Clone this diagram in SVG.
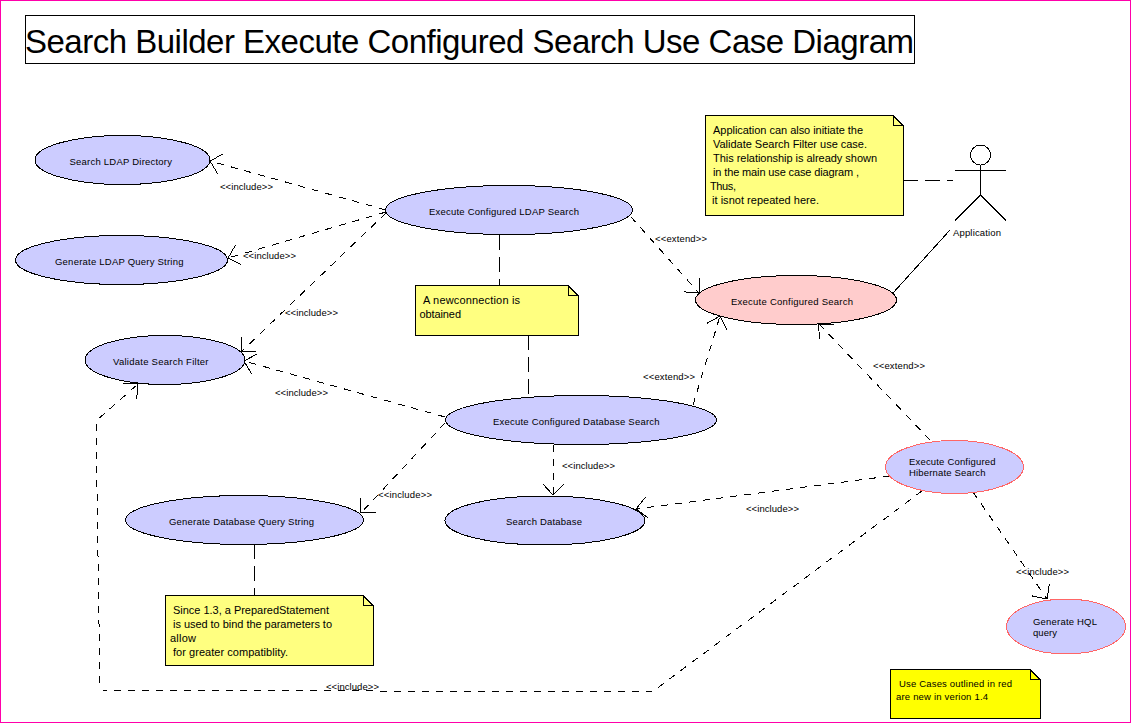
<svg xmlns="http://www.w3.org/2000/svg" width="1131" height="723" viewBox="0 0 1131 723">
<style>
text{font-family:"Liberation Sans",Arial,sans-serif;fill:#000}
path,ellipse,circle,rect{shape-rendering:crispEdges}
.s{font-size:9.5px}
.n{font-size:11px}
.t{font-size:33px}
.uc{fill:#ccccff;stroke:#000;stroke-width:1}
.uc2{fill:#ccccff;stroke:#ff6666;stroke-width:1}
.pink{fill:#ffcccc;stroke:#000;stroke-width:1}
.note{fill:#ffff80;stroke:#000;stroke-width:1}
.yel{fill:#ffff00;stroke:#000;stroke-width:1}
.dep{fill:none;stroke:#000;stroke-width:1;stroke-dasharray:7 7;marker-end:url(#open)}
.lnk{fill:none;stroke:#000;stroke-width:1;stroke-dasharray:15 7}
.sol{fill:none;stroke:#000;stroke-width:1}
</style>
<defs>
<marker id="open" markerUnits="userSpaceOnUse" markerWidth="32" markerHeight="32" refX="16" refY="16" orient="auto" overflow="visible">
<path d="M5,5.500L16,16L5,26.500" fill="none" stroke="#000" stroke-width="1"/>
</marker>
</defs>
<rect x="0" y="0" width="1131" height="723" fill="#fff"/>
<rect x="0.500" y="0.500" width="1130" height="722" fill="none" stroke="#ff00aa" stroke-width="1"/>
<g id="title">
<rect x="25.500" y="15.500" width="889" height="48" fill="#fff" stroke="#000"/>
<text class="t" x="25" y="53" textLength="889">Search Builder Execute Configured Search Use Case Diagram</text>
</g>
<g id="connectors">
<path class="dep" d="M386,210L210,161"/>
<path class="dep" d="M386,212L228,258"/>
<path class="dep" d="M386,213L241,352"/>
<path class="dep" d="M445,417L244,361"/>
<path class="dep" d="M445,423L361,513"/>
<path class="dep" d="M554,445L553,495"/>
<path class="dep" d="M631,217L699,293"/>
<path class="dep" d="M693,405L720,316"/>
<path class="dep" d="M930,440L819,324"/>
<path class="dep" d="M890,476L636,509"/>
<path class="dep" d="M973,492L1047,599"/>
<path class="dep" d="M922,491L652,692L100,690L96,421L138,384"/>
<path class="lnk" d="M499,235V285"/>
<path class="lnk" d="M528,335V396"/>
<path class="lnk" d="M254.500,544V595"/>
<path class="lnk" d="M903,180.500H953"/>
<path class="sol" d="M893,293L950,230"/>
<text class="s" x="220" y="190" textLength="53">&lt;&lt;include&gt;&gt;</text>
<text class="s" x="243" y="259" textLength="53">&lt;&lt;include&gt;&gt;</text>
<text class="s" x="285" y="316" textLength="53">&lt;&lt;include&gt;&gt;</text>
<text class="s" x="275" y="396" textLength="53">&lt;&lt;include&gt;&gt;</text>
<text class="s" x="562" y="469" textLength="53">&lt;&lt;include&gt;&gt;</text>
<text class="s" x="378" y="498" textLength="54">&lt;&lt;include&gt;&gt;</text>
<text class="s" x="746" y="512" textLength="53">&lt;&lt;include&gt;&gt;</text>
<text class="s" x="1016" y="575" textLength="53">&lt;&lt;include&gt;&gt;</text>
<text class="s" x="326" y="690" textLength="53">&lt;&lt;include&gt;&gt;</text>
<text class="s" x="655" y="242" textLength="52">&lt;&lt;extend&gt;&gt;</text>
<text class="s" x="643" y="380" textLength="52">&lt;&lt;extend&gt;&gt;</text>
<text class="s" x="873" y="369" textLength="52">&lt;&lt;extend&gt;&gt;</text>
</g>
<g id="search-ldap-directory">
<ellipse class="uc" cx="122.500" cy="160" rx="87.500" ry="24.500"/>
<text class="s" x="69.500" y="165" textLength="102.500">Search LDAP Directory</text>
</g>
<g id="generate-ldap-query-string">
<ellipse class="uc" cx="121.500" cy="260" rx="106" ry="24.500"/>
<text class="s" x="55" y="265" textLength="128.500">Generate LDAP Query String</text>
</g>
<g id="validate-search-filter">
<ellipse class="uc" cx="165" cy="360" rx="80" ry="24.500"/>
<text class="s" x="113" y="365" textLength="95.500">Validate Search Filter</text>
</g>
<g id="execute-ldap-search">
<ellipse class="uc" cx="509" cy="210" rx="123.500" ry="24.500"/>
<text class="s" x="429" y="215" textLength="150">Execute Configured LDAP Search</text>
</g>
<g id="execute-configured-search">
<ellipse class="pink" cx="796" cy="300" rx="100.500" ry="24.500"/>
<text class="s" x="731" y="305" textLength="122">Execute Configured Search</text>
</g>
<g id="execute-database-search">
<ellipse class="uc" cx="581" cy="420" rx="135.500" ry="24.500"/>
<text class="s" x="493" y="425" textLength="166.500">Execute Configured Database Search</text>
</g>
<g id="generate-database-query-string">
<ellipse class="uc" cx="244.500" cy="520" rx="119" ry="24.500"/>
<text class="s" x="169" y="525" textLength="145">Generate Database Query String</text>
</g>
<g id="search-database">
<ellipse class="uc" cx="545" cy="520.500" rx="100" ry="24.500"/>
<text class="s" x="506" y="525" textLength="76">Search Database</text>
</g>
<g id="execute-hibernate-search">
<ellipse class="uc2" cx="954.500" cy="467" rx="69" ry="26.500"/>
<text class="s" x="909" y="465" textLength="86.500">Execute Configured</text>
<text class="s" x="909" y="476" textLength="76.500">Hibernate Search</text>
</g>
<g id="generate-hql-query">
<ellipse class="uc2" cx="1066" cy="626.500" rx="59.500" ry="27.500"/>
<text class="s" x="1033" y="625" textLength="64">Generate HQL</text>
<text class="s" x="1033" y="636" textLength="24">query</text>
</g>
<g id="application-actor">
<circle cx="980.500" cy="155" r="10" fill="#fff" stroke="#000"/>
<path class="sol" d="M955,170.500H1006M980.500,165V195M980.500,195L955,220.500M980.500,195L1006,220.500"/>
<text class="s" x="953" y="236" textLength="48">Application</text>
</g>
<g id="note-application">
<path class="note" d="M705.500,115.500H893L903,125.500V215.500H705.500Z"/>
<path class="sol" d="M893,115.500V125.500H903"/>
<text class="n" x="713" y="134" textLength="150">Application can also initiate the</text>
<text class="n" x="713" y="148" textLength="154">Validate Search Filter use case.</text>
<text class="n" x="713" y="162" textLength="164">This relationship is already shown</text>
<text class="n" x="713" y="176" textLength="146">in the main use case diagram ,</text>
<text class="n" x="710" y="190" textLength="26">Thus,</text>
<text class="n" x="712" y="204" textLength="107">it isnot repeated here.</text>
</g>
<g id="note-connection">
<path class="note" d="M415.500,285.500H568L578,295.500V335.500H415.500Z"/>
<path class="sol" d="M568,285.500V295.500H578"/>
<text class="n" x="423" y="304" textLength="97">A newconnection is</text>
<text class="n" x="419.500" y="318" textLength="41.500">obtained</text>
</g>
<g id="note-prepared-statement">
<path class="note" d="M165.500,595.500H363L373,605.500V665.500H165.500Z"/>
<path class="sol" d="M363,595.500V605.500H373"/>
<text class="n" x="173" y="614" textLength="156">Since 1.3, a PreparedStatement</text>
<text class="n" x="173" y="628" textLength="159">is used to bind the parameters to</text>
<text class="n" x="170" y="642" textLength="26">allow</text>
<text class="n" x="173" y="656" textLength="115">for greater compatiblity.</text>
</g>
<g id="note-legend">
<path class="yel" d="M890.500,669.500H1030L1040,679.500V718.500H890.500Z"/>
<path class="sol" d="M1030,669.500V679.500H1040"/>
<text class="s" x="899" y="687" textLength="113">Use Cases outlined in red</text>
<text class="s" x="896" y="700" textLength="92">are new in verion 1.4</text>
</g>
</svg>
